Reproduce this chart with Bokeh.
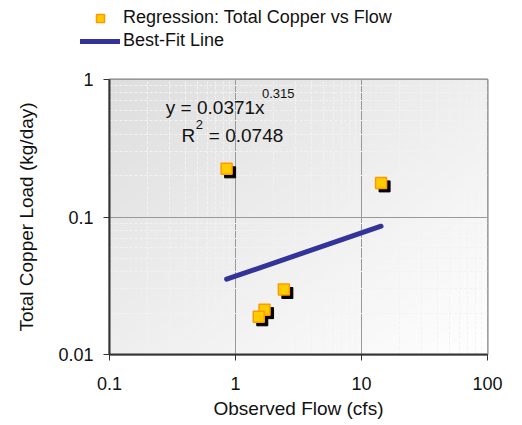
import numpy as np
from bokeh.plotting import figure
from bokeh.layouts import column, row
from bokeh.models import (FixedTicker, Legend, LegendItem, Label, ColumnDataSource, Range1d)
from bokeh.embed import file_html
from bokeh.resources import INLINE

# ---- data ----
flow = [0.85, 14.3, 2.42, 1.70, 1.53]
copper = [0.224, 0.177, 0.0297, 0.0212, 0.0188]
fit_x = [0.85, 14.3]
fit_y = [0.0353, 0.0857]
x_ticks = [0.1, 1, 10, 100]
x_tick_labels = ["0.1", "1", "10", "100"]
y_ticks = [0.01, 0.1, 1]
y_tick_labels = ["0.01", "0.1", "1"]
eq_text = "y = 0.0371x"
eq_exp = "0.315"
r2_text = "= 0.0748"
series_names = ["Regression: Total Copper vs Flow", "Best-Fit Line"]

FONT = "Liberation Sans"
SQ_FILL, SQ_LINE, FIT_COLOR = "#FFCC00", "#FF9900", "#333399"

LEG_H = 60
p = figure(frame_width=378, frame_height=275, x_axis_type="log", y_axis_type="log",
           x_range=(0.1, 100), y_range=(0.01, 1), output_backend="svg",
           toolbar_location=None, min_border_left=109, min_border_top=79 - LEG_H,
           min_border_right=16, min_border_bottom=10)

p.background_fill_color = "white"
p.border_fill_color = "white"
p.outline_line_color = "#808080"
p.outline_line_width = 2

# gradient background (style)
n = 64
gx, gy = np.meshgrid(np.linspace(0, 1, n), np.linspace(0, 1, n))
t = np.clip((gx + (1 - gy)) / 2.0, 0, 1)  # 0 top-left .. 1 bottom-right
shade = (222 + 33 * t).astype(np.uint32)
img = np.empty((n, n), dtype=np.uint32)
view = img.view(dtype=np.uint8).reshape((n, n, 4))
view[:, :, 0] = shade
view[:, :, 1] = shade
view[:, :, 2] = shade
view[:, :, 3] = 255
bg = p.image_rgba(image=[img], x=x_ticks[0], y=y_ticks[0],
                  dw=x_ticks[-1] - x_ticks[0], dh=y_ticks[-1] - y_ticks[0])
bg.level = "image"

# ticks
def minors(lo_exp, hi_exp):
    return [m * 10.0 ** k for k in range(lo_exp, hi_exp) for m in range(2, 10)]

p.xaxis.ticker = FixedTicker(ticks=x_ticks, minor_ticks=minors(-1, 2))
p.yaxis.ticker = FixedTicker(ticks=y_ticks, minor_ticks=minors(-2, 0))
p.xaxis.major_label_overrides = {v: s for v, s in zip(x_ticks, x_tick_labels)}
p.yaxis.major_label_overrides = {v: s for v, s in zip(y_ticks, y_tick_labels)}

for ax in (p.xaxis, p.yaxis):
    ax.axis_line_color = "#333333"
    ax.axis_line_width = 2
    ax.major_tick_line_color = "#333333"
    ax.major_tick_line_width = 1
    ax.major_tick_out = 6
    ax.major_tick_in = 0
    ax.minor_tick_out = 0
    ax.minor_tick_in = 0
    ax.major_label_text_font = FONT
    ax.major_label_text_font_size = "18px"
    ax.major_label_text_color = "#111111"
    ax.axis_label_text_font = FONT
    ax.axis_label_text_font_size = "19px"
    ax.axis_label_text_font_style = "normal"
    ax.axis_label_text_color = "#111111"

p.xaxis.axis_label = "Observed Flow (cfs)"
p.yaxis.axis_label = "Total Copper Load (kg/day)"
p.xaxis.major_label_standoff = 16
p.xaxis.axis_label_standoff = 5
p.yaxis.major_label_standoff = 10
p.yaxis.axis_label_standoff = 18

for g in (p.xgrid, p.ygrid):
    g.grid_line_color = "#999999"
    g.grid_line_width = 1
    g.minor_grid_line_color = "#f2f2f2"
    g.minor_grid_line_width = 1
    g.minor_grid_line_dash = "3 2"

# shadow offsets (style: a few pixels right/down)
sx = 10 ** (3.5 / 126.0)
sy = 10 ** (-3.5 / 137.5)
src = ColumnDataSource(dict(x=flow, y=copper,
                            xs=[v * sx for v in flow], ys=[v * sy for v in copper]))
p.scatter("xs", "ys", source=src, marker="square", size=11, fill_color="black",
          line_color="black")
p.scatter("x", "y", source=src, marker="square", size=11, fill_color=SQ_FILL,
          line_color=SQ_LINE, line_width=1.5)
p.line(fit_x, fit_y, line_color=FIT_COLOR, line_width=5, line_cap="round")

# equation labels
def lab(x, y, text, size):
    p.add_layout(Label(x=x, y=y, text=text, text_font=FONT, text_font_size=size,
                       text_baseline="alphabetic", text_color="#111111"))

lab(0.28, 0.626, eq_text, "19px")
lab(1.62, 0.785, eq_exp, "13px")
lab(0.372, 0.394, "R", "19px")
lab(0.484, 0.47, "2", "13px")
lab(0.614, 0.394, r2_text, "19px")

# legend strip above the plot (its renderers hold the plot's first values,
# placed outside the strip's visible range so only the legend swatches show)
lp = figure(width=503, height=LEG_H, x_range=Range1d(0, 1), y_range=Range1d(0, 1),
            output_backend="svg", toolbar_location=None, min_border=0)
lp.axis.visible = False
lp.grid.visible = False
lp.outline_line_color = None
lp.background_fill_color = "white"
lp.border_fill_color = "white"
r_sq = lp.scatter(x=[flow[0] + 10], y=[copper[0] + 10], marker="square", size=11,
                  fill_color=SQ_FILL, line_color=SQ_LINE, line_width=1.5)
r_ln = lp.line(x=[v + 10 for v in fit_x], y=[v + 10 for v in fit_y],
               line_color=FIT_COLOR, line_width=5, line_cap="round")
legend = Legend(items=[LegendItem(label=series_names[0], renderers=[r_sq]),
                       LegendItem(label=series_names[1], renderers=[r_ln])],
                location=(80, LEG_H - 51), orientation="vertical",
                padding=0, margin=0, spacing=2, glyph_width=40, glyph_height=20,
                label_height=20, label_standoff=3, border_line_color=None,
                background_fill_alpha=0, label_text_font=FONT,
                label_text_font_size="18px", label_text_color="#111111")
lp.add_layout(legend, "center")

layout = column(row(lp), row(p), spacing=0)
open("out.html", "w").write(file_html(layout, INLINE))
